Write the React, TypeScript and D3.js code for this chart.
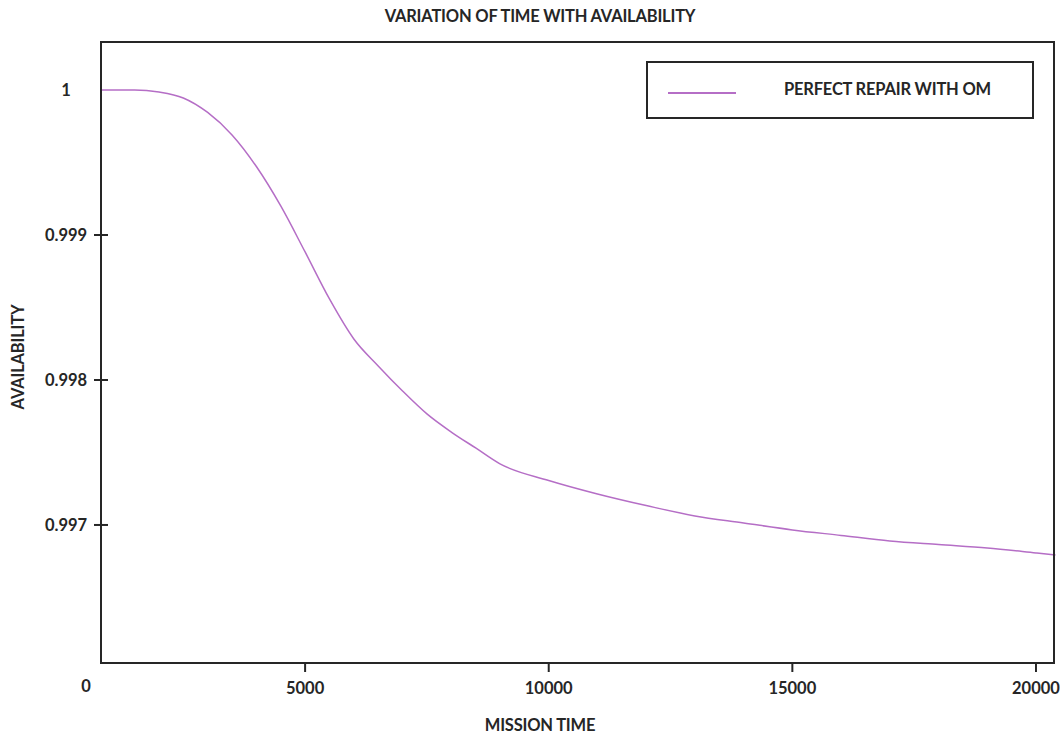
import React from "react";
import * as d3 from "d3";

const missionTime = [800, 1500, 2000, 2500, 3000, 3500, 4000, 4500, 5000, 5500, 6000, 6500, 7000, 7500, 8000, 8500, 9000, 10000, 11000, 12000, 13000, 14000, 15000, 16000, 17000, 18000, 19000, 20000, 20400];
const availability = [1.0, 1.0, 0.999986, 0.999945, 0.999845, 0.99969, 0.999472, 0.9992, 0.998883, 0.998559, 0.998283, 0.998097, 0.997924, 0.997766, 0.997641, 0.997531, 0.997421, 0.997307, 0.997214, 0.997134, 0.997062, 0.997014, 0.996966, 0.996928, 0.99689, 0.996865, 0.996841, 0.996807, 0.996793];
const xTicks = [5000, 10000, 15000, 20000];
const yTicks = [1, 0.999, 0.998, 0.997];
const yTickLabels = ["1", "0.999", "0.998", "0.997"];
const seriesName = "PERFECT REPAIR WITH OM";
const title = "VARIATION OF TIME WITH AVAILABILITY";
const xTitle = "MISSION TIME";
const yTitle = "AVAILABILITY";

const W = 1060;
const H = 738;
const left = 101, right = 1054, top = 42, bottom = 663;
const FONT = "Lato, 'Open Sans', sans-serif";
const LINE_COLOR = "#b56ec6";
const INK = "#262626";

export default function App() {
  const x = d3.scaleLinear().domain([811, 20370]).range([left, right]);
  const y = d3.scaleLinear().domain([0.996048, 1.000331]).range([bottom, top]);
  const data = missionTime.map((t, i) => [t, availability[i]] as [number, number]);
  const line = d3.line<[number, number]>().x(d => x(d[0])).y(d => y(d[1])).curve(d3.curveMonotoneX);

  return (
    <svg width={W} height={H} style={{ position: "absolute", left: 0, top: 0, background: "#fff" }} fontFamily={FONT}>
      <rect x={0} y={0} width={W} height={H} fill="#fff" />
      <text x={540} y={16} dy="0.35em" textAnchor="middle" fontSize={16.5} fontWeight={700} fill={INK} letterSpacing={-0.2}>{title}</text>

      <path d={line(data) || ""} fill="none" stroke={LINE_COLOR} strokeWidth={1.5} />

      <rect x={left} y={top} width={right - left} height={bottom - top} fill="none" stroke={INK} strokeWidth={2} />

      {yTicks.map((v, i) => (
        <g key={"y" + i}>
          {i > 0 && <line x1={left - 7} x2={left + 7} y1={y(v)} y2={y(v)} stroke={INK} strokeWidth={2} />}
          <text x={66} y={y(v)} dy="0.35em" textAnchor="middle" fontSize={16.5} fontWeight={700} fill={INK}>{yTickLabels[i]}</text>
        </g>
      ))}

      {xTicks.map((v, i) => (
        <g key={"x" + i}>
          <line x1={x(v)} x2={x(v)} y1={bottom} y2={bottom + 9} stroke={INK} strokeWidth={2} />
          <text x={x(v)} y={688} dy="0.35em" textAnchor="middle" fontSize={16.5} fontWeight={700} fill={INK}>{v}</text>
        </g>
      ))}
      <text x={86} y={686} dy="0.35em" textAnchor="middle" fontSize={16.5} fontWeight={700} fill={INK}>0</text>

      <text x={540} y={725} dy="0.35em" textAnchor="middle" fontSize={16.5} fontWeight={700} fill={INK} letterSpacing={-0.2}>{xTitle}</text>
      <text transform={`translate(18,357) rotate(-90)`} dy="0.35em" textAnchor="middle" fontSize={16.5} fontWeight={700} fill={INK} letterSpacing={-0.2}>{yTitle}</text>

      <rect x={647} y={62} width={386} height={56} fill="#fff" stroke={INK} strokeWidth={2} />
      <line x1={668} x2={736} y1={93} y2={93} stroke={LINE_COLOR} strokeWidth={2} />
      <text x={784} y={89} dy="0.35em" fontSize={16.5} fontWeight={700} fill={INK} letterSpacing={-0.2}>{seriesName}</text>
    </svg>
  );
}
